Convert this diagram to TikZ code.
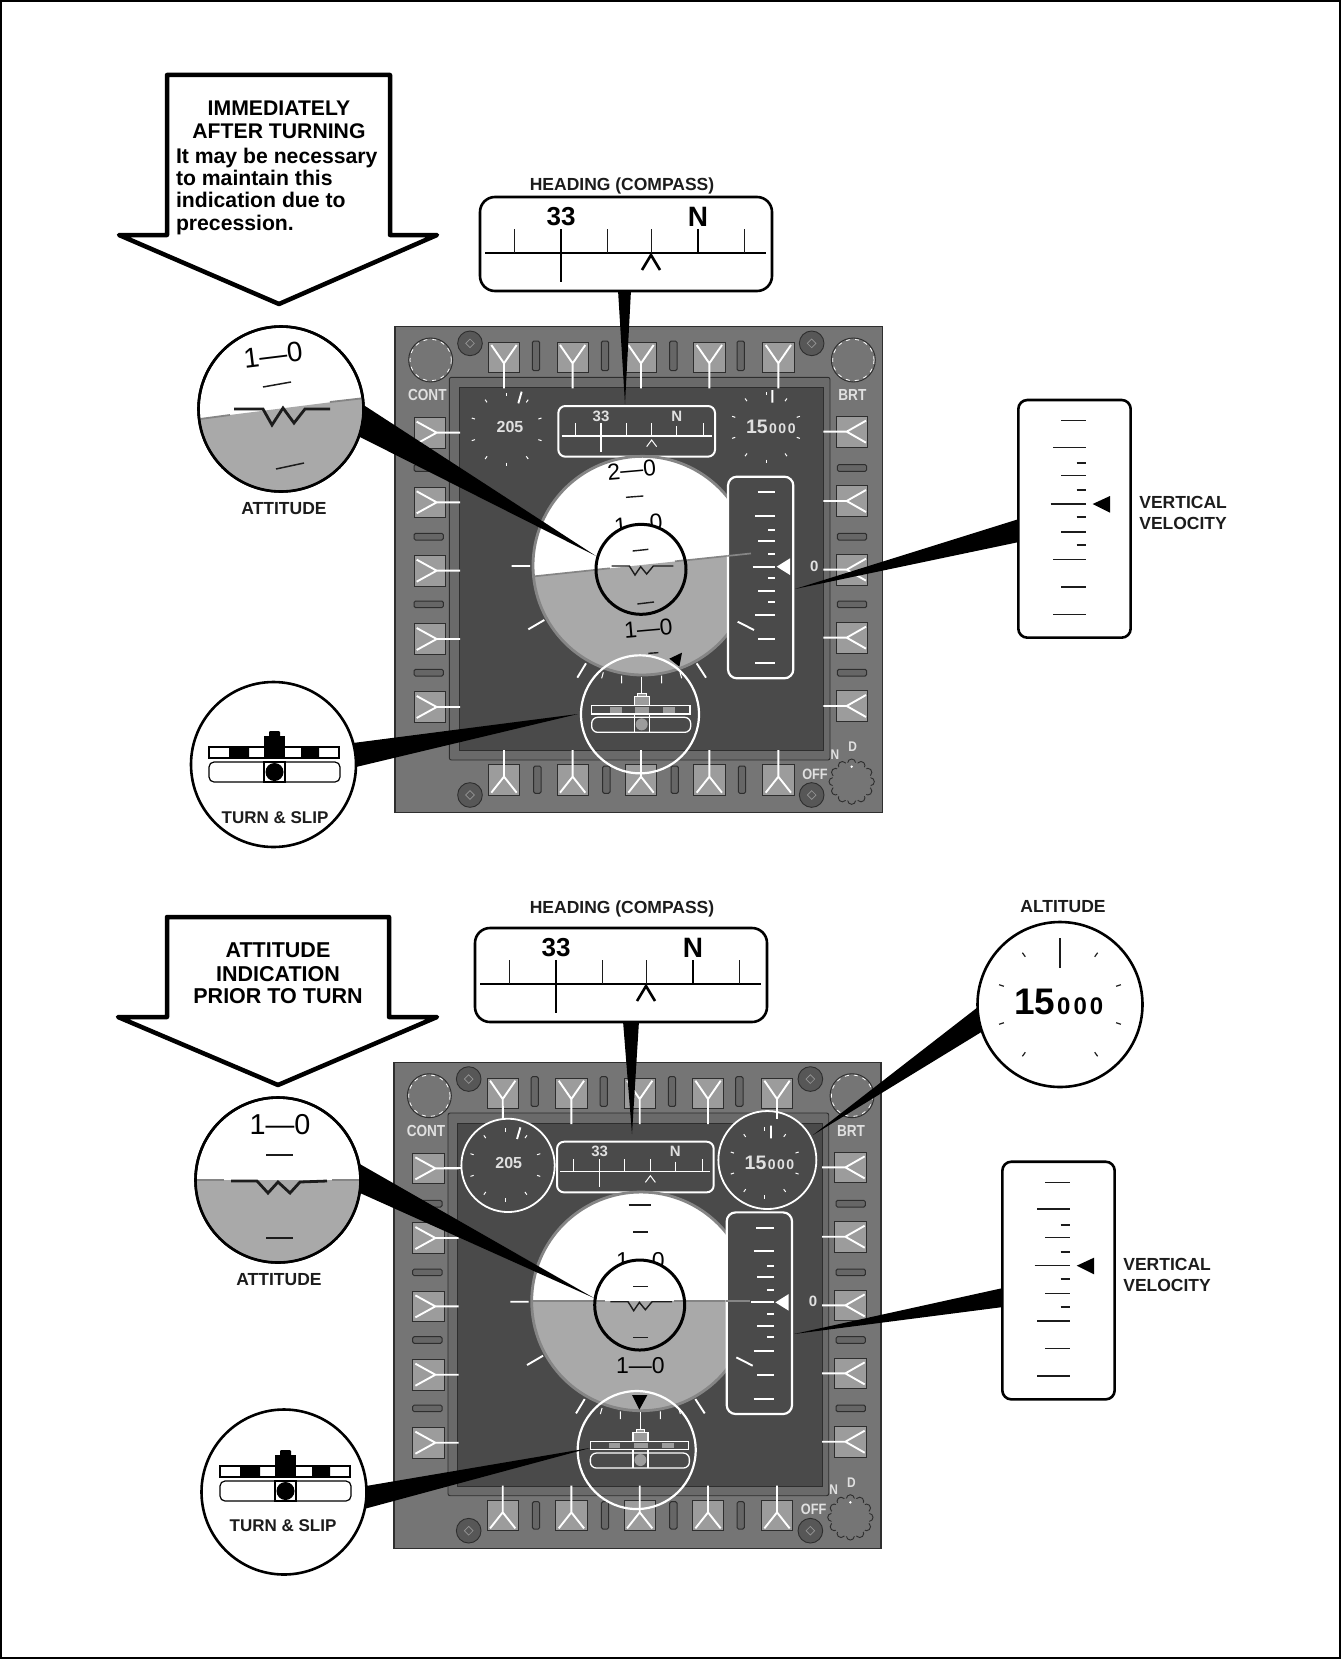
\documentclass[tikz,border=0pt]{standalone}
\usepackage{fontspec}
\setmainfont{Liberation Sans}
\newcommand{\fsz}[1]{\fontsize{#1}{#1}\selectfont}
\definecolor{panelg}{HTML}{757575}
\definecolor{bezelg}{HTML}{6A6A6A}
\definecolor{screeng}{HTML}{4A4A4A}
\definecolor{edgeg}{HTML}{2E2E2E}
\definecolor{btng}{HTML}{9C9C9C}
\definecolor{slotg}{HTML}{666666}
\definecolor{groundg}{HTML}{A9A9A9}
\definecolor{rimg}{HTML}{858585}
\definecolor{labelg}{HTML}{E0E0E0}
\definecolor{inkg}{HTML}{1C1C1C}
\tikzset{
  txt/.style={inner sep=0pt,outer sep=0pt},
  lab/.style={txt,anchor=base,font=\fsz{17.5}\bfseries,text=inkg},
  plab/.style={txt,font=\fsz{16}\bfseries,text=labelg,xscale=.85},
  btn/.style={fill=btng,draw=edgeg,line width=1pt},
  slot/.style={fill=slotg,draw=edgeg,line width=1pt,rounded corners=1.5pt},
  wmark/.style={draw=white,line width=1.9pt},
  wtick/.style={draw=white,line width=1pt},
  tape/.style={draw=white,line width=1.3pt},
  wedge/.style={fill=black,draw=none},
  callout/.style={draw=black,fill=white,line width=4.5pt,line join=round},
  lens/.style={draw=black,fill=white,line width=2.6pt},
  ink/.style={draw=inkg,line width=1.4pt},
  hline/.style={draw=rimg,line width=1.7pt},
}
% ---------- instrument panel, coordinates in a 3x grid
\newcommand{\drawpanel}[4]{%
\begin{scope}[shift={(#1,#2)},x=.33333pt,y=-.33333pt]
  \ifnum#3=0 \def\hL{783}\def\hR{688}\def\tcx{750}\else\def\hL{735}\def\hR{735}\def\tcx{744}\fi
  \pgfmathsetmacro{\hA}{\hR+(\hL-\hR)*0.20889}
  \pgfmathsetmacro{\hB}{\hR+(\hL-\hR)*0.12778}
  \draw[fill=panelg,draw=edgeg,line width=1.6pt] (15,20) rectangle (1477,1478);
  \draw[fill=bezelg,draw=edgeg,line width=.9pt,rounded corners=2pt] (178,172) rectangle (1320,1320);
  \draw[fill=screeng,draw=edgeg,line width=.9pt] (207,203) rectangle (1300,1292);
  % buttons top and bottom
  \foreach \c in {342,548,753,958,1165}{
    \draw[btn] (\c-47,67) rectangle (\c+47,157);
    \draw[wmark] (\c,205)--(\c,130)--(\c-38,75) (\c,130)--(\c+38,75);
    \draw[btn] (\c-47,1333) rectangle (\c+47,1425);
    \draw[wmark] (\c,1290)--(\c,1370)--(\c-38,1418) (\c,1370)--(\c+38,1418);
  }
  \foreach \c in {438,645,850,1052}{
    \draw[slot] (\c-11,63) rectangle (\c+11,152);
    \draw[slot] (\c+4-11,1338) rectangle (\c+4+11,1420);
  }
  % buttons left and right
  \foreach \c in {338,547,752,957,1161}{
    \draw[btn] (72,\c-46) rectangle (166,\c+46);
    \draw[wmark] (210,\c)--(140,\c)--(80,\c-33) (140,\c)--(80,\c+33);
  }
  \foreach \c in {335,543,749,953,1158}{
    \draw[btn] (1338,\c-46) rectangle (1432,\c+46);
    \draw[wmark] (1300,\c)--(1370,\c)--(1428,\c-33) (1370,\c)--(1428,\c+33);
  }
  \foreach \c in {444,650,853,1058}{
    \draw[slot] (72,\c-10) rectangle (160,\c+10);
    \draw[slot] (1342,\c-10) rectangle (1430,\c+10);
  }
  % knobs
  \foreach \kx/\ky in {122/120,1390/120}{
    \draw[fill=panelg,draw=edgeg,line width=.9pt] (\kx,\ky) circle (66);
    \draw[white,line width=.8pt,dash pattern=on 4pt off 5pt] (\kx,\ky) circle (62);
  }
  \foreach \a in {0,30,...,330}{
    \draw[fill=panelg,draw=edgeg,line width=.9pt] (1385,1385)++(\a:56) circle (12);
  }
  \fill[panelg] (1385,1385) circle (58);
  \fill[white] (1385,1340) circle (4);
  \foreach \sx/\sy in {240/70,1265/70,240/1425,1265/1425}{
    \draw[fill=slotg!85!black,draw=edgeg,line width=.9pt] (\sx,\sy) circle (37);
    \draw[draw=edgeg!50!white,line width=.7pt] (\sx-13,\sy)--(\sx,\sy-13)--(\sx+13,\sy)--(\sx,\sy+13)--cycle;
  }
  \node[plab] (#4cont) at (112,226) {CONT};
  \node[plab] (#4brt) at (1387,226) {BRT};
  \node[plab,font=\fsz{14}\bfseries] (#4d) at (1388,1281) {D};
  \node[plab,font=\fsz{14}\bfseries] (#4n) at (1335,1303) {N};
  \node[plab,font=\fsz{15}\bfseries] (#4off) at (1275,1362) {OFF};
  % dials
  \ifnum#3=1
    \draw[fill=screeng,draw=white,line width=1.8pt] (358,329) circle (140);
    \draw[fill=screeng,draw=white,line width=1.8pt] (1136,313) circle (147);
    \draw[wmark] (166,338)--(218,338) (342,150)--(342,190) (1165,130)--(1165,190);
  \fi
  \foreach \a in {90,54,18,-18,-54,-90,-126,-162,162,126}{
    \draw[wtick] (350,328)++(\a:100)--++(\a:10);
    \draw[wtick] (1128,322)++(\a:97)--++(\a:10);
  }
  \draw[wmark] (385,250)--(395,215) (1147,210)--(1147,248);
  \node[txt,text=labelg,font=\fsz{16}\bfseries] (#4spd) at (360,322) {205};
  \node[txt,anchor=base west,text=labelg,font=\fsz{19.5}\bfseries] (#4alt) at (1068,340) {15{\fsz{14}\kern1.5pt 0\kern1.5pt 0\kern1.5pt 0}};
  % mini heading
  \draw[tape,line width=2pt,fill=screeng,rounded corners=7pt] (505,258) rectangle (975,410);
  \draw[wtick,line width=1.2pt] (515,348)--(965,348);
  \foreach \t in {555,708,785,940}{\draw[wtick] (\t,310)--(\t,348);}
  \draw[wtick,line width=1.4pt] (633,310)--(633,395) (860,318)--(860,348);
  \draw[wtick] (770,380)--(785,360)--(800,380);
  \node[txt,text=labelg,font=\fsz{15}\bfseries] (#4hd) at (633,288) {33};
  \node[txt,text=labelg,font=\fsz{15}\bfseries] (#4hn) at (860,288) {N};
  % attitude ball
  \begin{scope}
    \clip (757,737) circle (328);
    \fill[white] (400,400) rectangle (1100,1100);
    \fill[groundg] (300,\hL)--(1200,\hR)--(1200,1200)--(300,1200)--cycle;
    \ifnum#3=0
      \node[txt,rotate=5,font=\fsz{23}] (#4p20) at (725,450) {2—0};
      \node[txt,rotate=5,font=\fsz{23}] (#4p10) at (745,612) {1—0};
      \node[txt,rotate=5,font=\fsz{23}] (#4m10) at (775,925) {1—0};
      \draw[ink] (708,532)--(760,528);
      \draw[ink] (775,1000)--(805,998);
    \else
      \draw[ink,line width=2pt] (720,448)--(788,448);
      \draw[ink] (733,529)--(778,529);
      \node[txt,font=\fsz{23}] (#4p10) at (755,615) {1—0};
      \node[txt,font=\fsz{23}] (#4m10) at (755,931) {1—0};
    \fi
    \draw[hline] (300,\hL)--(1012,\hA);
  \end{scope}
  \draw[rimg,line width=2.8pt] (757,737) circle (328);
  % inner lens on the ball
  \begin{scope}
    \clip (753,748) circle (135);
    \fill[white] (600,600) rectangle (900,900);
    \fill[groundg] (300,\hL)--(1200,\hR)--(1200,1200)--(300,1200)--cycle;
    \ifnum#3=0
      \draw[ink] (728,693)--(775,688);
      \draw[ink] (742,852)--(792,846);
      \draw[hline] (618,749)--(660,745) (855,724)--(890,720);
    \else
      \draw[ink] (733,693)--(778,693);
      \draw[ink] (733,846)--(778,846);
      \draw[hline] (615,735)--(650,735) (855,735)--(890,735);
    \fi
    \draw[ink,line width=1.4pt] (665,738)--(718,738)--(735,765)--(752,740)--(770,762)--(790,738)--(850,738);
  \end{scope}
  \draw[black,line width=3pt] (753,748) circle (135);
  % vertical speed tape
  \draw[tape,line width=2.2pt,fill=screeng,rounded corners=9pt] (1014,470) rectangle (1210,1075);
  \begin{scope}
    \clip (757,737) circle (328);
    \draw[hline] (1012,\hA)--(1085,\hB);
  \end{scope}
  \foreach \ty/\tx in {517/1103,587/1095,663/1105,740/1088,812/1105,885/1095,957/1105,1030/1095}{
    \draw[wmark] (\tx,\ty)--(1155,\ty);
  }
  \foreach \ty in {631,703,775,845}{\draw[wmark] (1135,\ty)--(1155,\ty);}
  \fill[white] (1160,740)--(1200,715)--(1200,765)--cycle;
  \node[txt,text=labelg,font=\fsz{15}\bfseries] (#4zero) at (1273,738) {0};
  % bank marks
  \draw[wmark] (365,738)--(420,738) (415,928)--(463,900) (562,1073)--(588,1030)
               (920,1030)--(948,1073) (1043,905)--(1092,930);
  % turn and slip
  \draw[white,line width=2.2pt] (\tcx,1183) circle (177);
  \draw[wtick] (695,1067)--(695,1090) (815,1067)--(815,1090) (640,1057)--(635,1075) (870,1057)--(875,1075);
  \draw[wtick] (755,1070)--(755,1120);
  \draw[tape,line width=1.1pt,fill=screeng] (605,1157) rectangle (900,1182);
  \foreach \ga/\gb in {660/695,735/778,820/855}{\fill[btng] (\ga,1161) rectangle (\gb,1178);}
  \draw[tape,line width=1.3pt,fill=screeng,rounded corners=6pt] (605,1192) rectangle (902,1237);
  \draw[tape,line width=1.1pt,fill=btng] (733,1130) rectangle (778,1157);
  \draw[wtick,fill=btng] (742,1120) rectangle (768,1130);
  \draw[tape,line width=1.1pt] (733,1182)--(733,1237) (778,1182)--(778,1237);
  \fill[btng] (755,1213) circle (18);
  \ifnum#3=0
    \fill[black] (838,1016)--(876,998)--(868,1040)--cycle;
  \else
    \fill[black] (730,1018)--(776,1018)--(752,1062)--cycle;
  \fi
\end{scope}}
% ---------- big heading box
\newcommand{\headbox}[3]{%
\begin{scope}[shift={(#1,#2)}]
  \draw[draw=black,fill=white,line width=2.6pt,rounded corners=15pt] (480,197) rectangle (772,291);
  \draw[black,line width=1.7pt] (485,253)--(766,253);
  \foreach \t in {514,607,651,744}{\draw[inkg,line width=1pt] (\t,229)--(\t,253);}
  \draw[black,line width=2.4pt] (561,229)--(561,282);
  \draw[black,line width=1.6pt] (698,229)--(698,253);
  \draw[black,line width=2.6pt] (642,270)--(651,255)--(660,270);
  \node[txt,font=\fsz{26}\bfseries] (#3a) at (561,217) {33};
  \node[txt,font=\fsz{28}\bfseries] (#3b) at (698,217) {N};
\end{scope}}
% ---------- big vertical velocity box
\newcommand{\vvbox}[3]{%
\begin{scope}[shift={(#1,#2)},x=.33333pt,y=-.33333pt]
  \draw[draw=black,fill=white,line width=2.6pt,rounded corners=9pt] (55,30) rectangle (392,743);
  \foreach \ty/\tx in {92/183,172/160,257/183,342/152,426/183,508/160,591/183,673/160}{
    \draw[inkg,line width=1.4pt] (\tx,\ty)--(258,\ty);
  }
  \foreach \ty in {220,300,381,466}{\draw[inkg,line width=1.7pt] (230,\ty)--(258,\ty);}
  \fill[black] (278,342)--(330,318)--(330,368)--cycle;
  \node[lab,anchor=base west] (#3a) at (418,355) {VERTICAL};
  \node[lab,anchor=base west] (#3b) at (418,418) {VELOCITY};
\end{scope}}
% ---------- big turn and slip lens symbol
\newcommand{\turnsym}[2]{%
\begin{scope}[shift={(#1,#2)}]
  \draw[black,fill=white,line width=1.2pt] (209,747) rectangle (339,758);
  \fill[black] (229,748) rectangle (249,757) (301,748) rectangle (319,757);
  \draw[black,fill=white,line width=1.2pt,rounded corners=5pt] (209,762) rectangle (340,782);
  \fill[black] (264,736) rectangle (285,758);
  \fill[black,rounded corners=1pt] (269,731) rectangle (280,737);
  \draw[black,line width=1.2pt] (264,762) rectangle (285,782);
  \fill[black] (274.5,772) circle (9);
\end{scope}}
\begin{document}
\begin{tikzpicture}[x=1pt,y=-1pt]
\useasboundingbox (0,0) rectangle (1341,1659);
\fill[white] (0,0) rectangle (1341,1659);
\draw[black,line width=2pt] (1,1) rectangle (1340,1658);

\drawpanel{390}{320}{0}{u}
\drawpanel{388.7}{1055.7}{1}{l}

% ---------- wedges, upper
\coordinate (uatta) at (362,404); \coordinate (uattb) at (358,436); \coordinate (uatttip) at (596,556);
\coordinate (utura) at (353,743); \coordinate (uturb) at (356,767); \coordinate (uturtip) at (578,714);
\coordinate (uhda) at (618,290); \coordinate (uhdb) at (631,290); \coordinate (uhdtip) at (625,404);
\coordinate (uvva) at (1019,519); \coordinate (uvvb) at (1019,542); \coordinate (uvvtip) at (795,589);
\fill[wedge] (uatta)--(uattb)--(uatttip)--cycle;
\fill[wedge] (utura)--(uturb)--(uturtip)--cycle;
\fill[wedge] (uhda)--(uhdb)--(uhdtip)--cycle;
\fill[wedge] (uvva)--(uvvb)--(uvvtip)--cycle;
% ---------- wedges, lower
\coordinate (latta) at (358,1163); \coordinate (lattb) at (360,1193); \coordinate (latttip) at (594,1298);
\coordinate (ltura) at (366,1486); \coordinate (lturb) at (364,1509); \coordinate (lturtip) at (590,1448);
\coordinate (lhda) at (623,1021); \coordinate (lhdb) at (639,1021); \coordinate (lhdtip) at (632,1134);
\coordinate (lvva) at (1003,1288); \coordinate (lvvb) at (1003,1307); \coordinate (lvvtip) at (794,1334);
\coordinate (lalta) at (978,1007); \coordinate (laltb) at (983,1031); \coordinate (lalttip) at (813,1135);
\fill[wedge] (latta)--(lattb)--(latttip)--cycle;
\fill[wedge] (ltura)--(lturb)--(lturtip)--cycle;
\fill[wedge] (lhda)--(lhdb)--(lhdtip)--cycle;
\fill[wedge] (lvva)--(lvvb)--(lvvtip)--cycle;
\fill[wedge] (lalta)--(laltb)--(lalttip)--cycle;

% ---------- upper callout arrow
\draw[callout] (167,75)--(390,75)--(390,235)--(437,235)--(279,304)--(119,235)--(167,235)--cycle;
\node[txt,anchor=base,font=\fsz{21.2}\bfseries] (t1) at (279,116) {IMMEDIATELY};
\node[txt,anchor=base,font=\fsz{21.2}\bfseries] (t2) at (279,139) {AFTER TURNING};
\node[txt,anchor=base west,font=\fsz{21.2}\bfseries] (t3) at (176,163) {It may be necessary};
\node[txt,anchor=base west,font=\fsz{21.2}\bfseries] (t4) at (176,185) {to maintain this};
\node[txt,anchor=base west,font=\fsz{21.2}\bfseries] (t5) at (176,207) {indication due to};
\node[txt,anchor=base west,font=\fsz{21.2}\bfseries] (t6) at (176,230) {precession.};

% ---------- lower callout arrow
\draw[callout] (167,917)--(389,917)--(389,1017)--(437,1017)--(278,1085)--(118,1017)--(167,1017)--cycle;
\node[txt,anchor=base,font=\fsz{21.5}\bfseries] (b1) at (278,957) {ATTITUDE};
\node[txt,anchor=base,font=\fsz{21.5}\bfseries] (b2) at (278,981) {INDICATION};
\node[txt,anchor=base,font=\fsz{21.5}\bfseries] (b3) at (278,1003) {PRIOR TO TURN};

% ---------- heading boxes
\node[lab] (hl1) at (622,190) {HEADING (COMPASS)};
\headbox{0}{0}{hu}
\node[lab] (hl2) at (622,913) {HEADING (COMPASS)};
\headbox{-5}{731}{hb}

% ---------- upper attitude lens
\begin{scope}
  \draw[lens] (281,409) circle (82.5);
  \clip (281,409) circle (81.3);
  \fill[groundg] (190,420)--(372,397)--(372,500)--(190,500)--cycle;
  \draw[rimg,line width=1.8pt] (200,419)--(230,415) (330,402)--(365,398);
  \draw[ink,line width=2.8pt] (234,409)--(263,409)--(272,425)--(283,408)--(294,423)--(305,409)--(330,409);
  \node[txt,rotate=7,font=\fsz{28}] (ua) at (273,355) {1—0};
  \draw[ink,line width=1.5pt] (263,387)--(291,382);
  \draw[ink,line width=1.5pt] (276,469)--(304,463);
\end{scope}
\draw[black,line width=2.6pt] (281,409) circle (82.5);
\node[lab] (uattl) at (284,514) {ATTITUDE};

% ---------- upper turn lens
\draw[lens] (273.5,764.5) circle (82.5);
\turnsym{0}{0}
\node[lab,font=\fsz{17}\bfseries] (utl) at (275,823) {TURN \& SLIP};

% ---------- upper velocity
\vvbox{1000}{390}{uv}

% ---------- lower attitude lens
\begin{scope}
  \draw[lens] (278,1180) circle (82.5);
  \clip (278,1180) circle (81.3);
  \fill[groundg] (190,1180) rectangle (370,1270);
  \draw[rimg,line width=1.8pt] (196,1180)--(224,1180) (332,1180)--(360,1180);
  \draw[ink,line width=2.8pt] (231,1181)--(257,1181)--(268,1193)--(278,1182)--(290,1193)--(300,1182)--(327,1181);
  \node[txt,font=\fsz{28.8}] (la) at (280,1125) {1—0};
  \draw[ink,line width=1.1pt] (266,1155)--(293,1155);
  \draw[ink,line width=1.1pt] (266,1238)--(293,1238);
\end{scope}
\draw[black,line width=2.6pt] (278,1180) circle (82.5);
\node[lab] (lattl) at (279,1285) {ATTITUDE};

% ---------- lower turn lens
\draw[lens] (284,1492) circle (82.5);
\turnsym{11}{719}
\node[lab,font=\fsz{17}\bfseries] (ltl) at (283,1531) {TURN \& SLIP};

% ---------- altitude lens
\node[lab] (altl) at (1063,912) {ALTITUDE};
\draw[lens] (1060,1004.5) circle (82.5);
\foreach \a in {54,18,-18,-54,-90,-126,-162,162,126}{
  \draw[inkg,line width=1.2pt] (1060,1004.5)++(\a:59)--++(\a:5);
}
\draw[inkg,line width=1.5pt] (1060,968)--(1060,938);
\node[txt,anchor=base west,font=\fsz{37}\bfseries] (altn) at (1014,1014) {15{\fsz{24}\kern2pt 0\kern3pt 0\kern3pt 0}};

% ---------- lower velocity
\vvbox{984}{1151.7}{lv}
\end{tikzpicture}
\end{document}
